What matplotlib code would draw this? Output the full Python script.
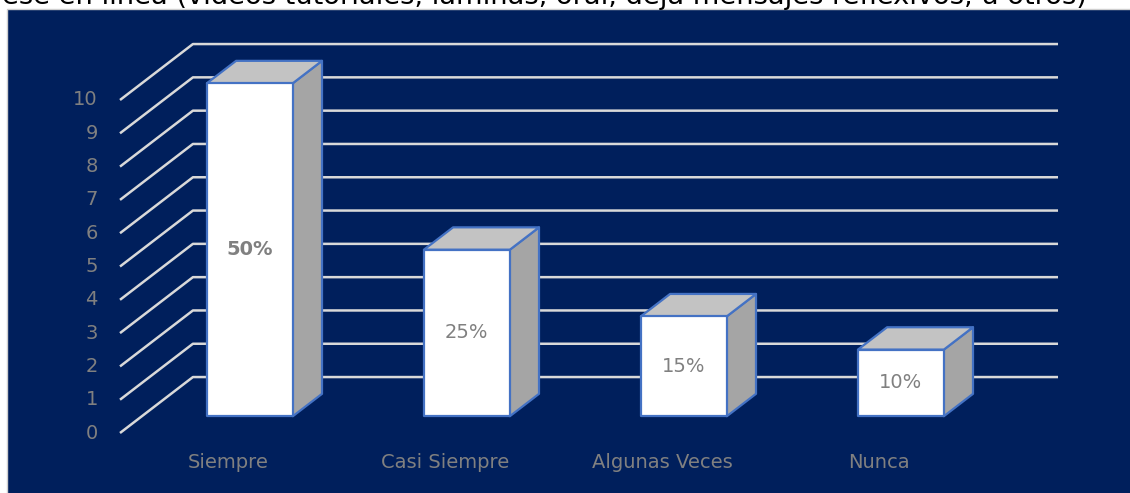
import matplotlib.pyplot as plt
from matplotlib.patches import Polygon, Rectangle

categorias = ['Siempre', 'Casi Siempre', 'Algunas Veces', 'Nunca']
valores = [10, 5, 3, 2]
porcentajes = ['50%', '25%', '15%', '10%']
ticks_y = list(range(0, 11))
titulo = 'ese en línea (videos tutoriales, láminas, oral, deja mensajes reflexivos, u otros)'

fondo = '#001f5c'
gris_txt = '#808080'

# desplazamiento oblicuo de la profundidad (en unidades de datos)
DX = 0.336
DY = 1.68
ancho = 0.396
prof_ini = 0.3
prof_bar = 0.4

fig = plt.figure(figsize=(11.3, 4.93), dpi=100)
fig.patch.set_facecolor('white')
fig.add_artist(Rectangle((7 / 1130, -0.01), 1, 484 / 493 + 0.01, transform=fig.transFigure,
                         facecolor=fondo, edgecolor='#cfcfcf', lw=1, zorder=-10))
fig.text(1087 / 1130, 1 - 4 / 493, titulo, ha='right', va='baseline',
         fontsize=19.6, color='black', family='DejaVu Sans')

ax = fig.add_axes([0, 0, 1, 1])
ax.set_xlim(-1.0507, 4.1567)
ax.set_ylim(-1.8018, 13.003)
ax.axis('off')

# lineas de cuadricula (suelo oblicuo + pared del fondo)
x0 = -0.4977
x_fin = 3.825
for v in ticks_y:
    ax.plot([x0, x0 + DX, x_fin], [v, v + DY, v + DY], color='#d9d9d9', lw=1.8,
            solid_capstyle='butt', zorder=1)
    ax.text(-0.60, v, str(v), ha='right', va='center', fontsize=14, color=gris_txt)

# barras 3D
for i, v in enumerate(valores):
    xl = i - ancho / 2 + prof_ini * DX
    xr = xl + ancho
    yb = prof_ini * DY
    yt = yb + v
    ddx = prof_bar * DX
    ddy = prof_bar * DY
    kw = dict(edgecolor='#4472c4', lw=1.6, joinstyle='round', zorder=3)
    ax.add_patch(Polygon([(xr, yb), (xr + ddx, yb + ddy), (xr + ddx, yt + ddy), (xr, yt)],
                         facecolor='#a5a5a5', **kw))
    ax.add_patch(Polygon([(xl, yt), (xr, yt), (xr + ddx, yt + ddy), (xl + ddx, yt + ddy)],
                         facecolor='#c3c3c3', **kw))
    ax.add_patch(Polygon([(xl, yb), (xr, yb), (xr, yt), (xl, yt)],
                         facecolor='white', **kw))
    ax.text(i + prof_ini * DX, yb + v / 2, porcentajes[i], ha='center', va='center',
            fontsize=14, color=gris_txt, fontweight='bold' if i == 0 else 'normal', zorder=4)
    ax.text(i, -0.9, categorias[i], ha='center', va='center', fontsize=14, color=gris_txt)

fig.savefig('out.png', dpi=100, facecolor='white')
